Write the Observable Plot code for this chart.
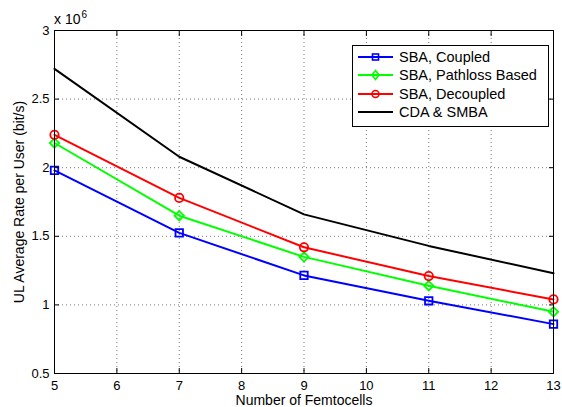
<!DOCTYPE html>
<html><head><meta charset="utf-8">
<script src="https://cdn.jsdelivr.net/npm/d3@7"></script>
<script src="https://cdn.jsdelivr.net/npm/@observablehq/plot@0.6"></script>
<style>
body{margin:0;background:#fff;font-family:"Liberation Sans",Arial,sans-serif;}
#wrap{position:relative;width:562px;height:407px;}
#legend{position:absolute;left:352px;top:45px;width:195px;height:80px;border:1px solid #000;background:#fff;font-size:14.5px;}
#legend .row{position:absolute;left:0;height:18px;display:flex;align-items:center;white-space:nowrap;}
#legend svg{margin-left:5px;margin-right:6px;}
#mult{position:absolute;left:54px;top:11px;font-size:14px;line-height:16px;white-space:nowrap;}
#mult span{position:relative;top:-6px;font-size:10px;margin-left:1px;}
</style></head><body>
<div id="wrap"><div id="chart"></div><div id="mult">x 10<span>6</span></div><div id="legend"></div></div>
<script>
const femtocells = [5, 7, 9, 11, 13];
const sbaCoupled = [1.98, 1.525, 1.215, 1.03, 0.86];
const sbaPathloss = [2.18, 1.65, 1.35, 1.14, 0.95];
const sbaDecoupled = [2.24, 1.78, 1.42, 1.21, 1.04];
const cdaSmba = [2.72, 2.08, 1.66, 1.43, 1.23];
const seriesNames = ["SBA, Coupled", "SBA, Pathloss Based", "SBA, Decoupled", "CDA & SMBA"];
const seriesColors = ["#0000ff", "#00ff00", "#ff0000", "#000000"];
const seriesSymbols = ["square", "diamond2", "circle", null];
const xTicks = [5, 6, 7, 8, 9, 10, 11, 12, 13];
const yTicks = [0.5, 1, 1.5, 2, 2.5, 3];

const allSeries = [sbaCoupled, sbaPathloss, sbaDecoupled, cdaSmba];
const rows = allSeries.flatMap((vals, i) => vals.map((v, j) => ({s: seriesNames[i], x: femtocells[j], y: v})));

const lineMarks = [];
allSeries.forEach((vals, i) => {
  const d = rows.filter(r => r.s === seriesNames[i]);
  lineMarks.push(Plot.line(d, {x: "x", y: "y", stroke: seriesColors[i], strokeWidth: 2}));
  if (seriesSymbols[i]) lineMarks.push(Plot.dot(d, {x: "x", y: "y", stroke: seriesColors[i], symbol: seriesSymbols[i], r: 4.2, strokeWidth: 1.8, fill: "none"}));
});

const noText = () => "";
const chart = Plot.plot({
  width: 562, height: 407,
  marginLeft: 54, marginRight: 9, marginTop: 30, marginBottom: 34,
  style: {fontFamily: "'Liberation Sans', Arial, sans-serif", fontSize: "13px", color: "#000", background: "#fff"},
  x: {domain: [5, 13], ticks: xTicks},
  y: {domain: [0.5, 3], ticks: yTicks},
  marks: [
    Plot.gridX(xTicks, {stroke: "#555", strokeOpacity: 0.8, strokeDasharray: "1,3"}),
    Plot.gridY(yTicks, {stroke: "#555", strokeOpacity: 0.8, strokeDasharray: "1,3"}),
    ...lineMarks,
    Plot.axisX(xTicks, {anchor: "bottom", tickSize: -5, tickPadding: 12, label: null, fontSize: 13}),
    Plot.axisX({anchor: "bottom", ticks: [], label: "Number of Femtocells", labelAnchor: "center", labelArrow: "none", labelOffset: 31, fontSize: 14}),
    Plot.axisX(xTicks, {anchor: "top", tickSize: -5, tickFormat: noText, label: null}),
    Plot.axisY(yTicks, {anchor: "left", tickSize: -5, tickPadding: 10, tickFormat: d => String(d), label: null, fontSize: 13}),
    Plot.axisY({anchor: "left", ticks: [], label: "UL Average Rate per User (bit/s)", labelAnchor: "center", labelArrow: "none", labelOffset: 40, fontSize: 14}),
    Plot.axisY(yTicks, {anchor: "right", tickSize: -5, tickFormat: noText, label: null}),
    Plot.frame({stroke: "#000", strokeWidth: 1})
  ]
});
document.getElementById("chart").appendChild(chart);

const leg = document.getElementById("legend");
seriesNames.forEach((name, i) => {
  const row = document.createElement("div");
  row.className = "row";
  row.style.top = (1.7 + i * 18.4) + "px";
  let marker = "";
  const c = seriesColors[i];
  if (seriesSymbols[i] === "square") marker = `<rect x="14.5" y="6" width="6" height="6" fill="none" stroke="${c}" stroke-width="1.6"/>`;
  if (seriesSymbols[i] === "diamond2") marker = `<path d="M17.5,4.5 L21,9 L17.5,13.5 L14,9Z" fill="none" stroke="${c}" stroke-width="1.6"/>`;
  if (seriesSymbols[i] === "circle") marker = `<circle cx="17.5" cy="9" r="3.5" fill="none" stroke="${c}" stroke-width="1.6"/>`;
  row.innerHTML = `<svg width="35" height="18"><line x1="0" y1="9" x2="35" y2="9" stroke="${c}" stroke-width="2"/>${marker}</svg><span>${name}</span>`;
  leg.appendChild(row);
});
</script>
</body></html>
